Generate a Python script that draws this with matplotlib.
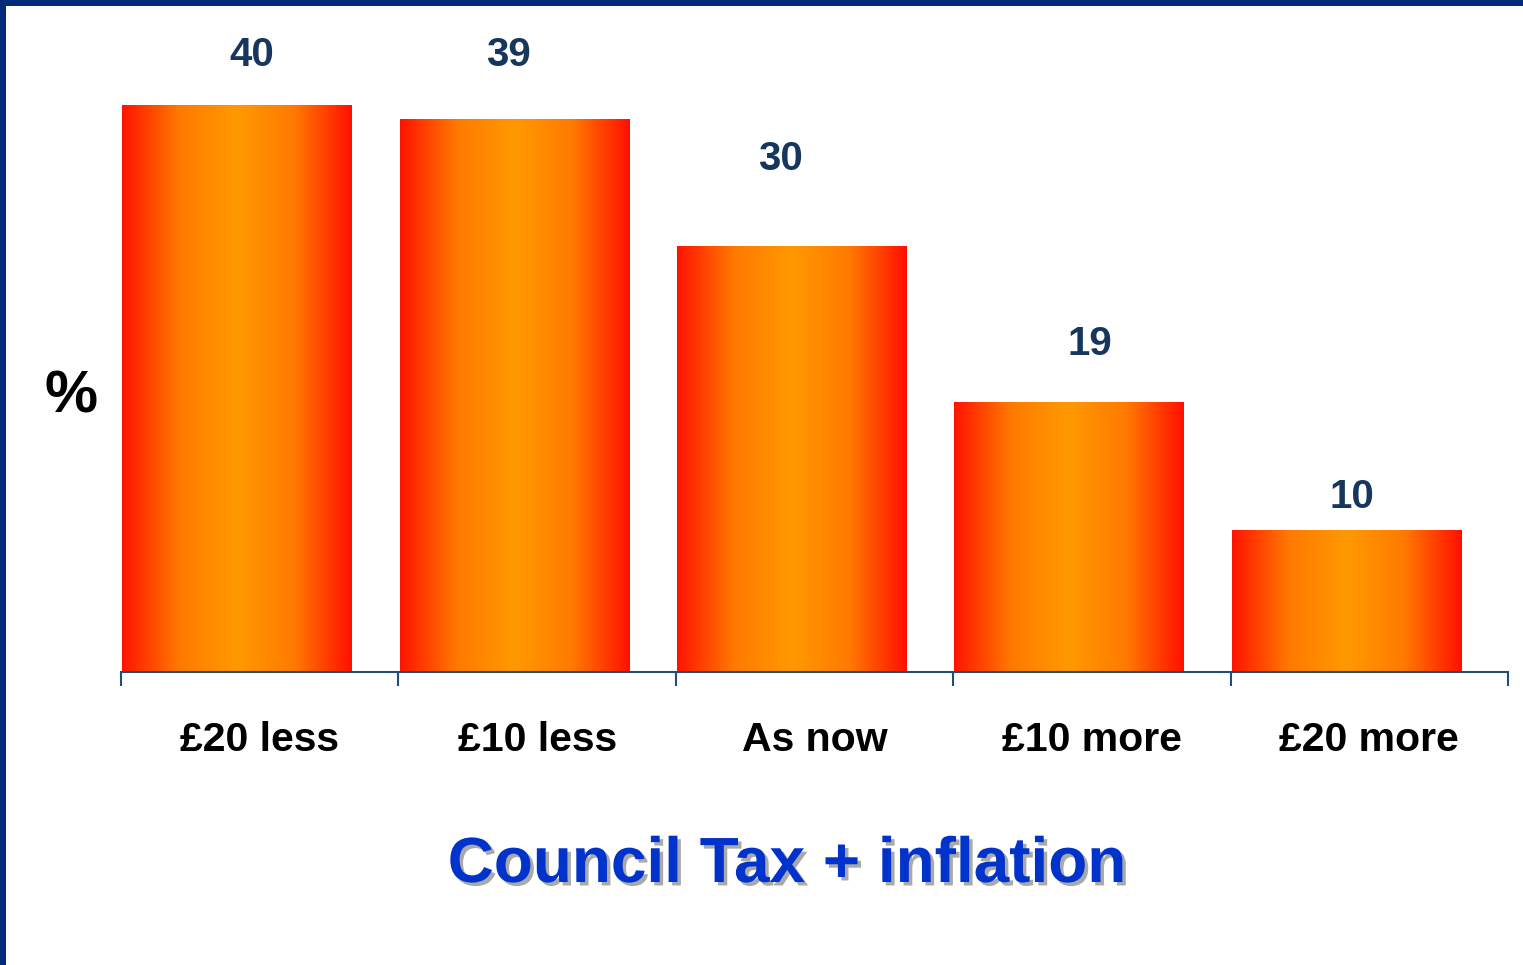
import numpy as np
import matplotlib
matplotlib.use('Agg')
import matplotlib.pyplot as plt
from matplotlib.colors import LinearSegmentedColormap
from matplotlib.patches import Rectangle
import matplotlib.patheffects as pe

plt.rcParams['font.family'] = ['Liberation Sans', 'DejaVu Sans']

categories = ['£20 less', '£10 less', 'As now', '£10 more', '£20 more']
values = [40, 39, 30, 19, 10]

# where each value label sits relative to the top of its bar (points) - uneven in the original
label_dx = [11, -4, -8, 15, 4]
label_dy = [36, 46, 63.5, 42.6, 24]

W, H = 1523, 965
fig = plt.figure(figsize=(W / 100, H / 100), dpi=100)
fig.patch.set_facecolor('white')

# blue frame at the top and left edge
fig.patches.append(Rectangle((0, 1 - 6 / H), 1, 6 / H, transform=fig.transFigure,
                             facecolor='#002a7c', edgecolor='none', zorder=0))
fig.patches.append(Rectangle((0, 0), 6 / W, 1, transform=fig.transFigure,
                             facecolor='#002a7c', edgecolor='none', zorder=0))

ax_left, ax_right = 121, 1508
ax_bottom, ax_top = 672, 30
ax = fig.add_axes([ax_left / W, 1 - ax_bottom / H, (ax_right - ax_left) / W,
                   (ax_bottom - ax_top) / H])
px_per_unit = 14.17

cmap = LinearSegmentedColormap.from_list('bar', ['#ff1400', '#ff7a00', '#ff9900', '#ff7a00', '#ff1000'])
grad = np.linspace(0, 1, 256).reshape(1, -1)

bar_w = 0.826
for i, v in enumerate(values):
    x0 = i + 0.004
    ax.imshow(grad, cmap=cmap, aspect='auto', extent=(x0, x0 + bar_w, 0, v),
              interpolation='bicubic', zorder=2)
    ax.annotate(str(v), (x0 + bar_w / 2, v), xytext=(label_dx[i], label_dy[i]),
                textcoords='offset points', ha='center', va='center',
                fontsize=29, fontweight='bold', color='#17365d')

ax.set_xlim(0, len(categories))
ax.set_ylim(0, (ax_bottom - ax_top) / px_per_unit)

for s in ['top', 'right', 'left']:
    ax.spines[s].set_visible(False)
ax.spines['bottom'].set_color('#1f4e79')
ax.spines['bottom'].set_linewidth(1.5)
ax.set_yticks([])
ax.set_xticks(range(len(categories) + 1))
ax.set_xticklabels([])
ax.tick_params(axis='x', which='major', direction='out', length=10, width=1.5, color='#1f4e79')
ax.set_xticks(np.arange(len(categories)) + 0.5, minor=True)
ax.set_xticklabels(categories, minor=True, fontsize=29.5, fontweight='bold', color='black')
ax.tick_params(axis='x', which='minor', length=0, pad=35)

fig.text(71 / W, 1 - 397 / H, '%', ha='center', va='center', fontsize=43,
         fontweight='bold', color='black')

fig.text(787 / W, 1 - 865 / H, 'Council Tax + inflation', ha='center', va='center',
         fontsize=46, fontweight='bold', color='#0033cc',
         path_effects=[pe.withSimplePatchShadow(offset=(2.5, -2.5), shadow_rgbFace='#a0a0a0', alpha=0.9)])

fig.savefig('out.png', dpi=100)
